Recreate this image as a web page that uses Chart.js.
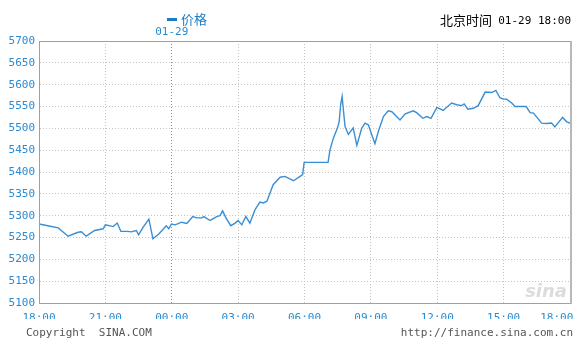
<!DOCTYPE html>
<html>
<head>
<meta charset="utf-8">
<script src="https://cdn.jsdelivr.net/npm/chart.js@4/dist/chart.umd.min.js"></script>
<style>
  body { margin: 0; background: #fff; }
  #graphics { display: block; }
</style>
</head>
<body>
<canvas id="graphics" width="586" height="344"></canvas>
<script>
// minutes since 18:00 (01-28) -> price
const minutes = [0, 24, 52, 79, 106, 115, 128, 151, 174, 180,
  201, 212, 222, 241, 250, 264, 270, 282, 298, 309,
  325, 345, 352, 359, 369, 387, 401, 417, 428, 441,
  447, 464, 482, 491, 498, 507, 520, 532, 540, 550,
  561, 572, 586, 599, 608, 618, 635, 654, 667, 690,
  708, 715, 719, 784, 789, 798, 809, 814, 818, 822,
  825, 830, 839, 852, 862, 875, 884, 893, 911, 920,
  934, 947, 957, 979, 993, 1015, 1024, 1041, 1051, 1063,
  1079, 1096, 1119, 1133, 1146, 1153, 1163, 1178, 1191, 1210,
  1228, 1239, 1250, 1259, 1268, 1282, 1291, 1321, 1332, 1341,
  1363, 1377, 1390, 1399, 1420, 1431, 1440];

const prices = [5281, 5277, 5272, 5253, 5262, 5263, 5253, 5266, 5270, 5279,
  5275, 5283, 5264, 5264, 5263, 5266, 5256, 5273, 5292, 5247,
  5258, 5277, 5270, 5281, 5279, 5285, 5282, 5298, 5295, 5295,
  5298, 5289, 5298, 5300, 5311, 5295, 5277, 5283, 5289, 5279,
  5298, 5283, 5314, 5331, 5329, 5333, 5371, 5388, 5390, 5380,
  5390, 5394, 5422, 5422, 5450, 5477, 5500, 5515, 5554, 5573,
  5546, 5504, 5486, 5501, 5461, 5500, 5512, 5508, 5465, 5492,
  5527, 5540, 5538, 5519, 5533, 5540, 5536, 5523, 5527, 5523,
  5548, 5541, 5558, 5554, 5552, 5556, 5544, 5546, 5552, 5583,
  5582, 5587, 5570, 5567, 5567, 5558, 5550, 5550, 5536, 5535,
  5512, 5511, 5512, 5503, 5525, 5515, 5512];

const timeLabels = ['18:00', '21:00', '00:00', '03:00', '06:00', '09:00', '12:00', '15:00', '18:00'];
const dateLabel = '01-29';
const seriesName = '价格';

const BLUE = '#2a8bd2';
const MONO = '"DejaVu Sans Mono", "Liberation Mono", monospace';
const CJK = '"Noto Sans CJK SC", "Noto Sans", sans-serif';

// frame, date marker, titles and footer text
const decorations = {
  id: 'decorations',
  beforeDatasetsDraw(chart) {
    const { ctx, chartArea } = chart;
    ctx.save();
    ctx.font = 'italic bold 18px "DejaVu Sans", sans-serif';
    ctx.fillStyle = '#dcdcdc';
    ctx.textAlign = 'right';
    ctx.textBaseline = 'bottom';
    ctx.fillText('sina', chartArea.right - 3, chartArea.bottom - 2);
    ctx.restore();
  },
  afterDraw(chart) {
    const { ctx, chartArea } = chart;
    const x = chart.scales.x;
    ctx.save();
    ctx.strokeStyle = '#a0a0a0';
    ctx.lineWidth = 1;
    ctx.strokeRect(chartArea.left + 0.5, chartArea.top + 0.5,
      chartArea.right - chartArea.left, chartArea.bottom - chartArea.top);
    ctx.fillStyle = '#b8b8b8';
    ctx.fillRect(chartArea.right, chartArea.top, 2, chartArea.bottom - chartArea.top + 1);

    // legend
    ctx.fillStyle = '#1a7dc6';
    ctx.fillRect(167, 18, 10, 3);
    ctx.font = '13px ' + CJK;
    ctx.textBaseline = 'middle';
    ctx.textAlign = 'left';
    ctx.fillText(seriesName, 181, 19);

    // date above midnight
    ctx.font = '11px ' + MONO;
    ctx.fillStyle = BLUE;
    ctx.textAlign = 'center';
    ctx.fillText(dateLabel, x.getPixelForValue(360), 32);

    // top right
    ctx.fillStyle = '#000';
    ctx.textAlign = 'right';
    ctx.fillText(dateLabel + ' 18:00', 571, 21);
    ctx.font = '13px ' + CJK;
    ctx.fillText('北京时间', 492, 20);

    // footer
    ctx.font = '11px ' + MONO;
    ctx.fillStyle = '#555';
    ctx.textAlign = 'left';
    ctx.fillText('Copyright  SINA.COM', 26, 333);
    ctx.textAlign = 'right';
    ctx.fillText('http://finance.sina.com.cn', 573, 333);
    ctx.restore();
  }
};

const chart = new Chart(document.getElementById('graphics').getContext('2d'), {
  type: 'line',
  data: {
    datasets: [{
      label: seriesName,
      data: minutes.map((m, i) => ({ x: m, y: prices[i] })),
      borderColor: '#3a8fd4',
      borderWidth: 1.4,
      pointRadius: 0,
      tension: 0,
      fill: false
    }]
  },
  options: {
    responsive: false,
    animation: false,
    layout: { padding: { top: 41, right: 16, bottom: 25, left: 0 } },
    plugins: { legend: { display: false }, tooltip: { enabled: false } },
    scales: {
      x: {
        type: 'linear',
        min: 0,
        max: 1440,
        afterBuildTicks(scale) {
          scale.ticks = timeLabels.map((t, i) => ({ value: i * 180 }));
        },
        afterFit(scale) {
          scale.height = 16;
          scale.paddingLeft = 0;
          scale.paddingRight = 0;
        },
        ticks: {
          autoSkip: false,
          maxRotation: 0,
          padding: 9,
          color: BLUE,
          font: { family: MONO, size: 11 },
          callback: (v, i) => i === timeLabels.length - 1 ? timeLabels[i] + '    ' : timeLabels[i]
        },
        grid: {
          drawTicks: false,
          color: (c) => c.tick && c.tick.value === 360 ? '#8a8a8a' : '#c4c4c4'
        },
        border: { display: true, color: '#a0a0a0', dash: [1, 2] }
      },
      y: {
        min: 5100,
        max: 5700,
        afterFit(scale) {
          scale.width = 39;
        },
        ticks: {
          stepSize: 50,
          padding: 4,
          color: BLUE,
          font: { family: MONO, size: 11 },
          callback: (v) => String(v)
        },
        grid: { drawTicks: false, color: '#c4c4c4' },
        border: { display: true, color: '#a0a0a0', dash: [1, 2] }
      }
    }
  },
  plugins: [decorations]
});
</script>
</body>
</html>
